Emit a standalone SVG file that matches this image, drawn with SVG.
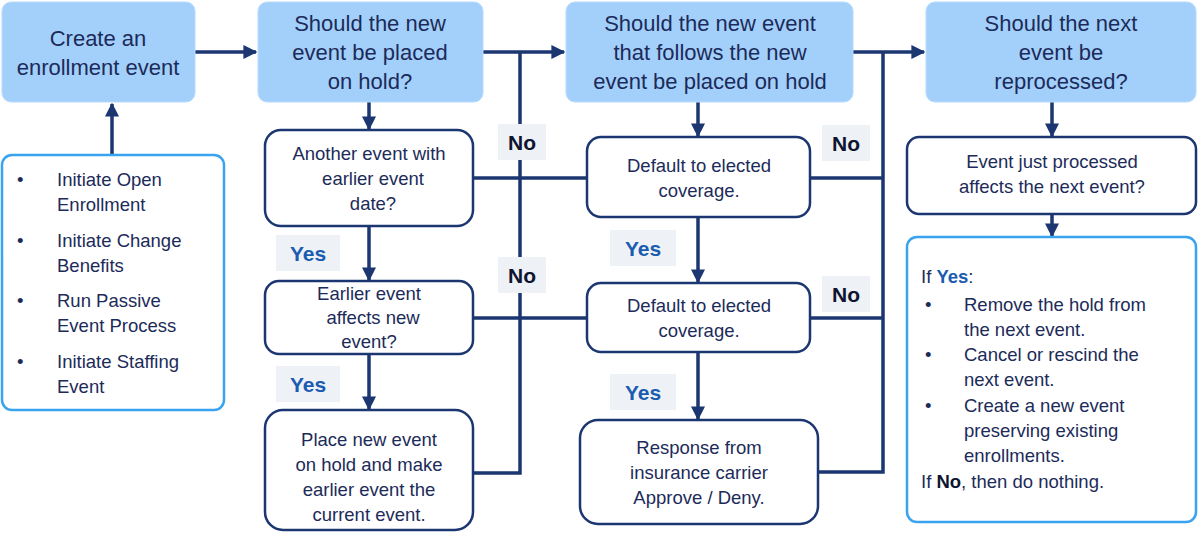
<svg xmlns="http://www.w3.org/2000/svg" width="1200" height="546" viewBox="0 0 1200 546">
<defs>
<marker id="ah" viewBox="0 0 10 10" refX="9" refY="5" markerWidth="4" markerHeight="4" orient="auto-start-reverse"><path d="M0,0 L10,5 L0,10 z" fill="#1b3670"/></marker>
<style>
text{font-family:"Liberation Sans",Arial,sans-serif;fill:#1c2b59;text-anchor:middle}
.t{font-size:22px}
.b{font-size:18.5px}
.top{fill:#a3d0fb;stroke:#b8dcfc;stroke-width:1}
.nd{fill:#fff;stroke:#1b3670;stroke-width:2.5}
.lb{fill:#fff;stroke:#3aa3ef;stroke-width:2.5}
.ln{fill:none;stroke:#1b3670;stroke-width:3.5}
.ar{fill:none;stroke:#1b3670;stroke-width:3.5;marker-end:url(#ah)}
.tag{fill:#eef1f6}
.yes{font-size:21px;font-weight:bold;fill:#1a5cb0}
.no{font-size:21px;font-weight:bold;fill:#0e1530}
.l{text-anchor:start}
</style>
</defs>
<g id="connectors">
<path class="ar" d="M112,155 V104"/>
<path class="ar" d="M195,52 H256"/>
<path class="ar" d="M483,52 H564"/>
<path class="ar" d="M853,52 H924"/>
<path class="ln" d="M520,52 V473 H473"/>
<path class="ln" d="M473,178 H587"/>
<path class="ln" d="M473,318 H587"/>
<path class="ln" d="M883,52 V472 H818"/>
<path class="ln" d="M810,178 H883"/>
<path class="ln" d="M810,318 H883"/>
<path class="ar" d="M369,102 V129"/>
<path class="ar" d="M369,226 V280"/>
<path class="ar" d="M369,354 V409"/>
<path class="ar" d="M698,102 V136"/>
<path class="ar" d="M698,217 V282"/>
<path class="ar" d="M698,352 V419"/>
<path class="ar" d="M1052,102 V136"/>
<path class="ar" d="M1052,214 V236"/>
</g>
<g id="labels">
<rect class="tag" x="498" y="124" width="48" height="36"/><text class="no" x="522" y="150">No</text>
<rect class="tag" x="498" y="257" width="48" height="36"/><text class="no" x="522" y="283">No</text>
<rect class="tag" x="822" y="125" width="48" height="36"/><text class="no" x="846" y="151">No</text>
<rect class="tag" x="822" y="276" width="48" height="36"/><text class="no" x="846" y="302">No</text>
<rect class="tag" x="276" y="235" width="64" height="36"/><text class="yes" x="308" y="261">Yes</text>
<rect class="tag" x="276" y="366" width="64" height="36"/><text class="yes" x="308" y="392">Yes</text>
<rect class="tag" x="610" y="230" width="66" height="36"/><text class="yes" x="643" y="256">Yes</text>
<rect class="tag" x="610" y="374" width="66" height="36"/><text class="yes" x="643" y="400">Yes</text>
</g>
<g id="create"><rect class="top" x="2" y="2" width="193" height="100" rx="9"/><text class="t" x="98" y="46">Create an</text><text class="t" x="98" y="75">enrollment event</text></g>
<g id="q1"><rect class="top" x="258" y="2" width="225" height="100" rx="9"/><text class="t" x="370" y="31">Should the new</text><text class="t" x="370" y="60">event be placed</text><text class="t" x="370" y="89">on hold?</text></g>
<g id="q2"><rect class="top" x="566" y="2" width="287" height="100" rx="9"/><text class="t" x="710" y="31">Should the new event</text><text class="t" x="710" y="60">that follows the new</text><text class="t" x="710" y="89">event be placed on hold</text></g>
<g id="q3"><rect class="top" x="926" y="2" width="270" height="100" rx="9"/><text class="t" x="1061" y="31">Should the next</text><text class="t" x="1061" y="60">event be</text><text class="t" x="1061" y="89">reprocessed?</text></g>
<g id="sources"><rect class="lb" x="2" y="155" width="222" height="255" rx="10"/>
<text class="b l" x="17" y="186">•</text><text class="b l" x="57" y="186">Initiate Open</text><text class="b l" x="57" y="211">Enrollment</text>
<text class="b l" x="17" y="247">•</text><text class="b l" x="57" y="247">Initiate Change</text><text class="b l" x="57" y="272">Benefits</text>
<text class="b l" x="17" y="307">•</text><text class="b l" x="57" y="307">Run Passive</text><text class="b l" x="57" y="332">Event Process</text>
<text class="b l" x="17" y="368">•</text><text class="b l" x="57" y="368">Initiate Staffing</text><text class="b l" x="57" y="393">Event</text></g>
<g id="another"><rect class="nd" x="265" y="130" width="208" height="96" rx="16"/><text class="b" x="369" y="160">Another event with</text><text class="b" x="373" y="185">earlier event</text><text class="b" x="373" y="210">date?</text></g>
<g id="earlier"><rect class="nd" x="265" y="281" width="208" height="73" rx="14"/><text class="b" x="369" y="300">Earlier event</text><text class="b" x="373" y="324">affects new</text><text class="b" x="369" y="348">event?</text></g>
<g id="place"><rect class="nd" x="265" y="410" width="208" height="120" rx="18"/><text class="b" x="369" y="446">Place new event</text><text class="b" x="369" y="471">on hold and make</text><text class="b" x="369" y="496">earlier event the</text><text class="b" x="369" y="521">current event.</text></g>
<g id="default1"><rect class="nd" x="587" y="137" width="223" height="80" rx="14"/><text class="b" x="699" y="172">Default to elected</text><text class="b" x="699" y="197">coverage.</text></g>
<g id="default2"><rect class="nd" x="587" y="283" width="223" height="69" rx="14"/><text class="b" x="699" y="312">Default to elected</text><text class="b" x="699" y="337">coverage.</text></g>
<g id="response"><rect class="nd" x="580" y="420" width="238" height="104" rx="18"/><text class="b" x="699" y="454">Response from</text><text class="b" x="699" y="479">insurance carrier</text><text class="b" x="699" y="504">Approve / Deny.</text></g>
<g id="justproc"><rect class="nd" x="907" y="137" width="289" height="77" rx="12"/><text class="b" x="1052" y="168">Event just processed</text><text class="b" x="1052" y="193">affects the next event?</text></g>
<g id="result"><rect class="lb" x="907" y="237" width="289" height="285" rx="10"/>
<text class="b l" x="921" y="283">If <tspan font-weight="bold" fill="#1a5cb0">Yes</tspan>:</text>
<text class="b l" x="925" y="311">•</text><text class="b l" x="964" y="311">Remove the hold from</text><text class="b l" x="964" y="336">the next event.</text>
<text class="b l" x="925" y="361">•</text><text class="b l" x="964" y="361">Cancel or rescind the</text><text class="b l" x="964" y="386">next event.</text>
<text class="b l" x="925" y="412">•</text><text class="b l" x="964" y="412">Create a new event</text><text class="b l" x="964" y="437">preserving existing</text><text class="b l" x="964" y="462">enrollments.</text>
<text class="b l" x="921" y="488">If <tspan font-weight="bold" fill="#0e1530">No</tspan>, then do nothing.</text></g>
</svg>
